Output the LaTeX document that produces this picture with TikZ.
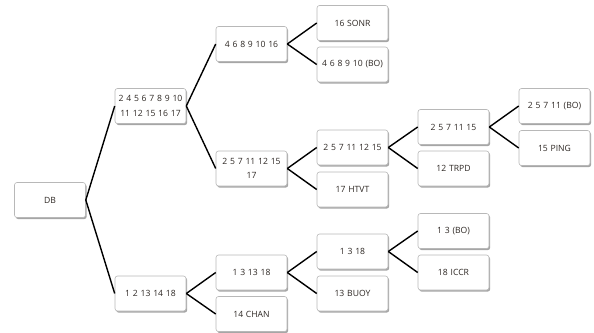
\documentclass[tikz,border=0pt]{standalone}
\usepackage{fontspec}
\setmainfont{Open Sans}[WordSpace={1.25,0,0}]
\usetikzlibrary{shadows}
\definecolor{boxline}{HTML}{B8B8B8}
\definecolor{txt}{HTML}{2E2824}
\tikzset{
  box/.style={draw=boxline, fill=white, rounded corners=2.5pt, line width=0.6pt,
    minimum width=71pt, minimum height=35pt, inner sep=0pt, align=center,
    font=\fontsize{8.6}{14.5}\selectfont, text=txt,
    drop shadow={shadow xshift=1.2pt, shadow yshift=-1.6pt, fill=black, opacity=0.35}},
  link/.style={line width=1.4pt, black}
}
\begin{document}
\begin{tikzpicture}[x=1pt, y=-1pt]
\useasboundingbox (0,0) rectangle (594,332);
% root and first split
\node[box] (db) at (50,200) {DB};
\node[box] (a) at (150.5,106) {2 4 5 6 7 8 9 10\\11 12 15 16 17};
\node[box] (b) at (150.5,293.5) {1 2 13 14 18};
% second level
\node[box] (c) at (251.5,44) {4 6 8 9 10 16};
\node[box] (d) at (251.5,168.5) {2 5 7 11 12 15\\17};
\node[box] (e) at (251.5,272.5) {1 3 13 18};
\node[box] (f) at (251.5,314) {14 CHAN};
% third level
\node[box] (g) at (352.5,23) {16 SONR};
\node[box] (h) at (352.5,64.5) {4 6 8 9 10 (BO)};
\node[box] (i) at (352.5,147.5) {2 5 7 11 12 15};
\node[box] (j) at (352.5,189.5) {17 HTVT};
\node[box] (k) at (352.5,251.5) {1 3 18};
\node[box] (l) at (352.5,293.5) {13 BUOY};
% fourth level
\node[box] (m) at (453.5,127) {2 5 7 11 15};
\node[box] (n) at (453.5,168.5) {12 TRPD};
\node[box] (o) at (453.5,231) {1 3 (BO)};
\node[box] (p) at (453.5,272.5) {18 ICCR};
% fifth level
\node[box] (q) at (554.5,106) {2 5 7 11 (BO)};
\node[box] (r) at (554.5,148) {15 PING};
% branches
\foreach \s/\t in {db/a, db/b, a/c, a/d, b/e, b/f, c/g, c/h, d/i, d/j,
                   e/k, e/l, i/m, i/n, k/o, k/p, m/q, m/r}
  \draw[link] (\s.east) -- (\t.west);
\end{tikzpicture}
\end{document}
